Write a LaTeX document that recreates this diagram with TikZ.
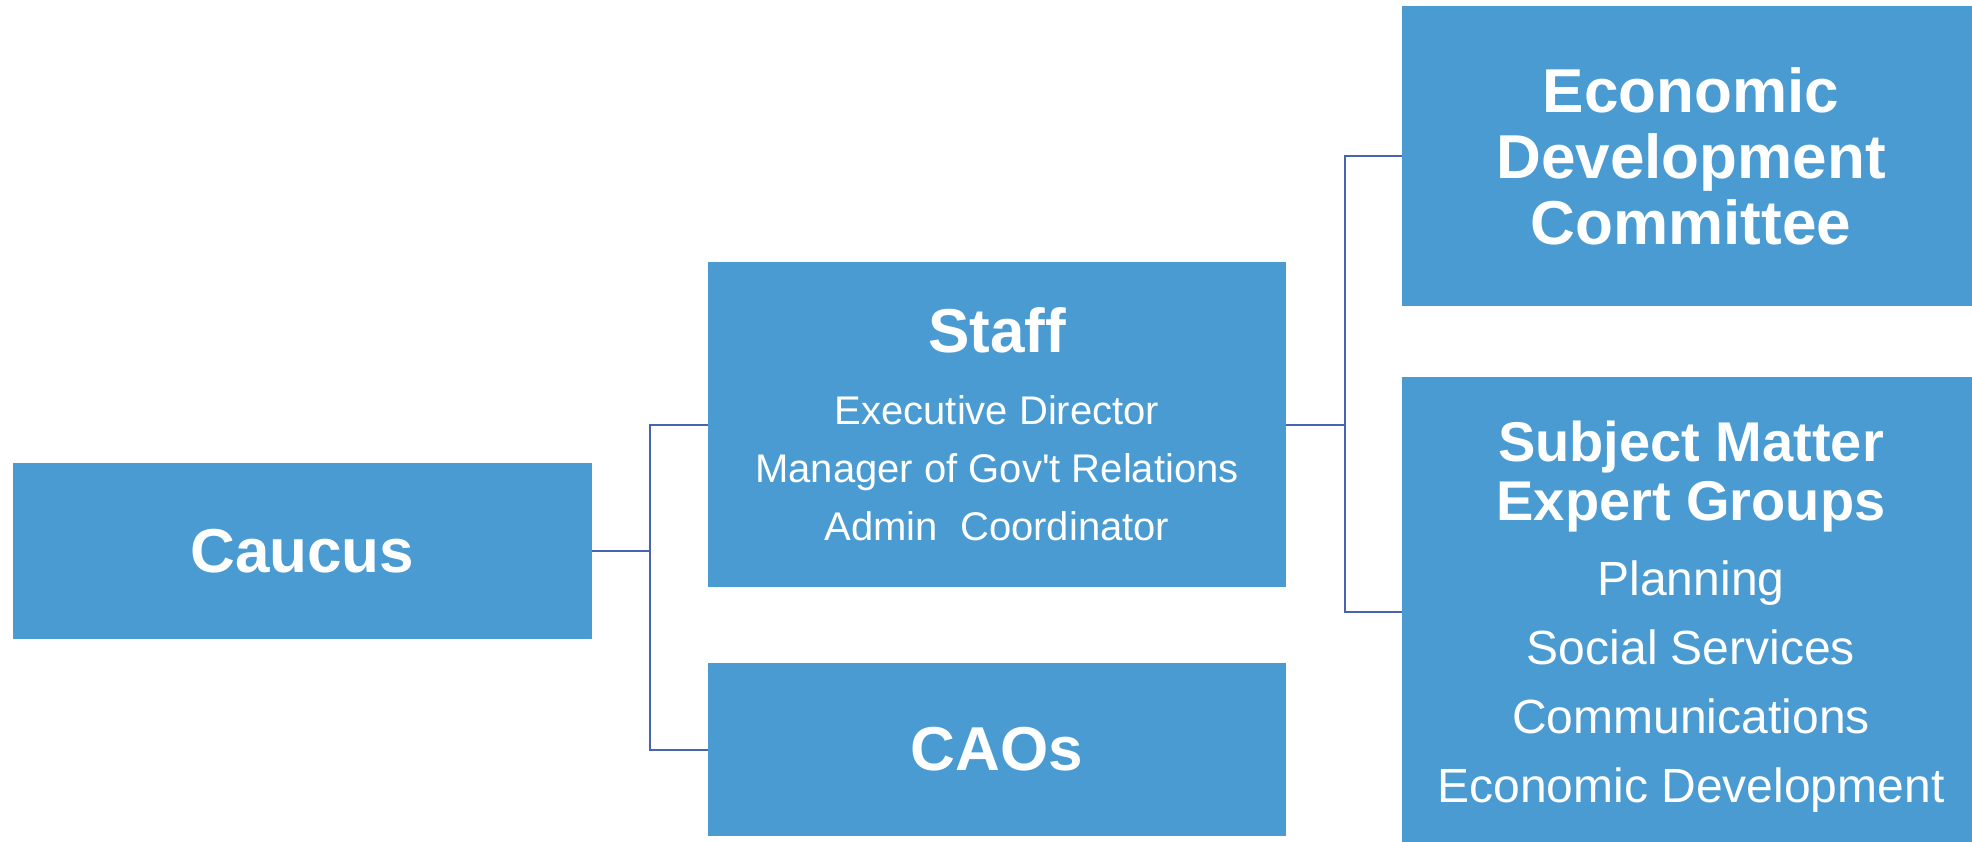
\documentclass[tikz,border=0pt]{standalone}
\usepackage{fontspec}
\setmainfont{Liberation Sans}
\definecolor{boxblue}{RGB}{74,155,210}
\definecolor{linkblue}{RGB}{72,100,176}

\begin{document}
\begin{tikzpicture}[x=1pt, y=-1pt,
    unit/.style={rectangle, fill=boxblue, text=white, inner sep=0pt, align=center},
    wide/.style={minimum width=578, minimum height=#1},
    head/.style={font=\bfseries\fontsize{62}{66}\selectfont},
    link/.style={draw=linkblue, line width=2pt}]

    \clip (0,0) rectangle (1972,842);

    \node [unit, head, minimum width=579.5, minimum height=176] (caucus) at (302.25, 551) {Caucus};
    \node [unit, wide=325, font=\fontsize{40}{58}\selectfont] (staff) at (997, 424.5)
        {{\bfseries\fontsize{62}{62}\selectfont Staff}\\[14pt]
         Executive Director\\
         Manager of Gov\textquotesingle t Relations\\
         Admin~~Coordinator};
    \node [unit, head, wide=173] (caos) at (997, 749.5) {CAOs};
    \node [unit, head, wide=300] (edc) at (1691, 156) {Economic\\ Development\\ Committee};
    \node [unit, wide=470, font=\fontsize{48}{69}\selectfont] (sme) at (1691, 612)
        {\rule{0pt}{49pt}{\bfseries\fontsize{56}{56}\selectfont Subject Matter}\\[-10pt]
         {\bfseries\fontsize{56}{56}\selectfont Expert Groups}\\[6pt]
         Planning\\
         Social Services\\
         Communications\\
         Economic Development};

    \coordinate (fork1) at (650, 551);
    \coordinate (fork2) at (1345, 424.5);

    \draw [link] (caucus.east) -- (fork1) |- (staff.west);
    \draw [link] (fork1) |- (caos.west);
    \draw [link] (staff.east) -- (fork2) |- (edc.west);
    \draw [link] (fork2) |- (sme.west);
\end{tikzpicture}
\end{document}
